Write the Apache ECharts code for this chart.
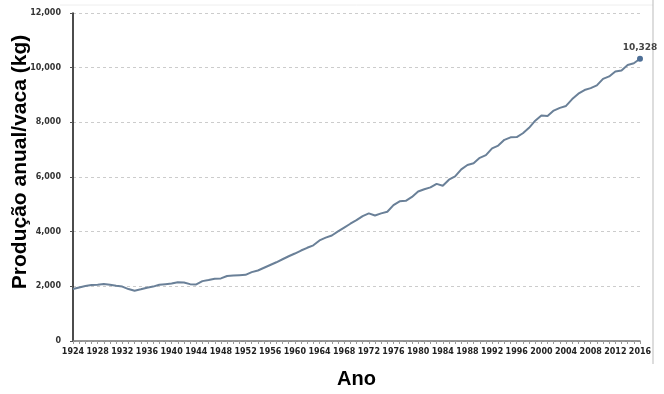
<!DOCTYPE html>
<html><head><meta charset="utf-8">
<script src="https://cdn.jsdelivr.net/npm/echarts@6/dist/echarts.min.js"></script>
<style>html,body{margin:0;padding:0;background:#fff}#c{width:664px;height:394px}</style>
</head><body><div id="c"></div>
<script>
const years = [];
for (let y = 1924; y <= 2016; y++) years.push(String(y));
const production = [
1900,1960,2010,2045,2060,2085,2060,2020,1990,1900,
1840,1890,1950,1990,2060,2080,2100,2150,2140,2080,
2070,2190,2230,2280,2290,2380,2400,2410,2420,2520,
2580,2680,2780,2880,2990,3100,3200,3310,3410,3500,
3680,3780,3860,4010,4150,4290,4420,4570,4670,4590,
4670,4730,4970,5110,5130,5270,5470,5550,5620,5750,
5680,5900,6020,6280,6440,6500,6700,6800,7050,7150,
7360,7450,7460,7600,7800,8060,8250,8230,8430,8530,
8600,8850,9050,9180,9250,9350,9590,9680,9860,9900,
10100,10160,10328];
const yTitle = 'Produção anual/vaca (kg)';
const xTitle = 'Ano';

const chart = echarts.init(document.getElementById('c'));
const lastIdx = production.length - 1;
chart.setOption({
  animation: false,
  grid: {left: 73, right: 24, top: 13, bottom: 43},
  xAxis: {
    type: 'category', data: years, boundaryGap: false,
    axisLine: {lineStyle: {color: '#777', width: 1.5}},
    axisTick: {show: true, interval: 0, length: 3, lineStyle: {color: '#999'}},
    axisLabel: {interval: 3, color: '#222', fontSize: 8, fontWeight: 'bold', fontFamily: 'DejaVu Sans', margin: 7},
    name: xTitle, nameLocation: 'middle', nameGap: 28,
    nameTextStyle: {fontSize: 20, fontWeight: 'bold', color: '#000', fontFamily: 'Liberation Sans'},
    splitLine: {show: false}
  },
  yAxis: {
    type: 'value', min: 0, max: 12000, interval: 2000,
    axisLine: {show: true, lineStyle: {color: '#111', width: 1.5}},
    axisTick: {show: true, length: 3, lineStyle: {color: '#555'}},
    axisLabel: {color: '#333', fontSize: 8, fontWeight: 'bold', fontFamily: 'DejaVu Sans', margin: 12,
      formatter: v => v.toLocaleString('en-US')},
    splitLine: {lineStyle: {color: '#ccc', type: [3, 3]}}
  },
  series: [{
    type: 'line', data: production.map((v, i) => i === lastIdx ? {
      value: v, symbol: 'circle', symbolSize: 6,
      itemStyle: {color: '#4e6f96'},
      label: {show: true, position: 'top', distance: 4, formatter: p => p.value.toLocaleString('en-US'),
        color: '#444', fontSize: 9, fontWeight: 'bold', fontFamily: 'DejaVu Sans'}
    } : v),
    showSymbol: true, symbol: 'none',
    lineStyle: {color: '#6a8098', width: 2},
    itemStyle: {color: '#6a8098'}
  }],
  graphic: [
    {type: 'text', x: 20, y: 162, rotation: Math.PI / 2,
      style: {text: yTitle, fontSize: 21, fontWeight: 'bold', fill: '#000', fontFamily: 'Liberation Sans',
        align: 'center', verticalAlign: 'middle'}},
    {type: 'line', shape: {x1: 60, y1: 5, x2: 653, y2: 5}, style: {stroke: '#eee', lineWidth: 1}},
    {type: 'line', shape: {x1: 653, y1: 0, x2: 653, y2: 364}, style: {stroke: '#bbb', lineWidth: 1}}
  ]
});
</script></body></html>
